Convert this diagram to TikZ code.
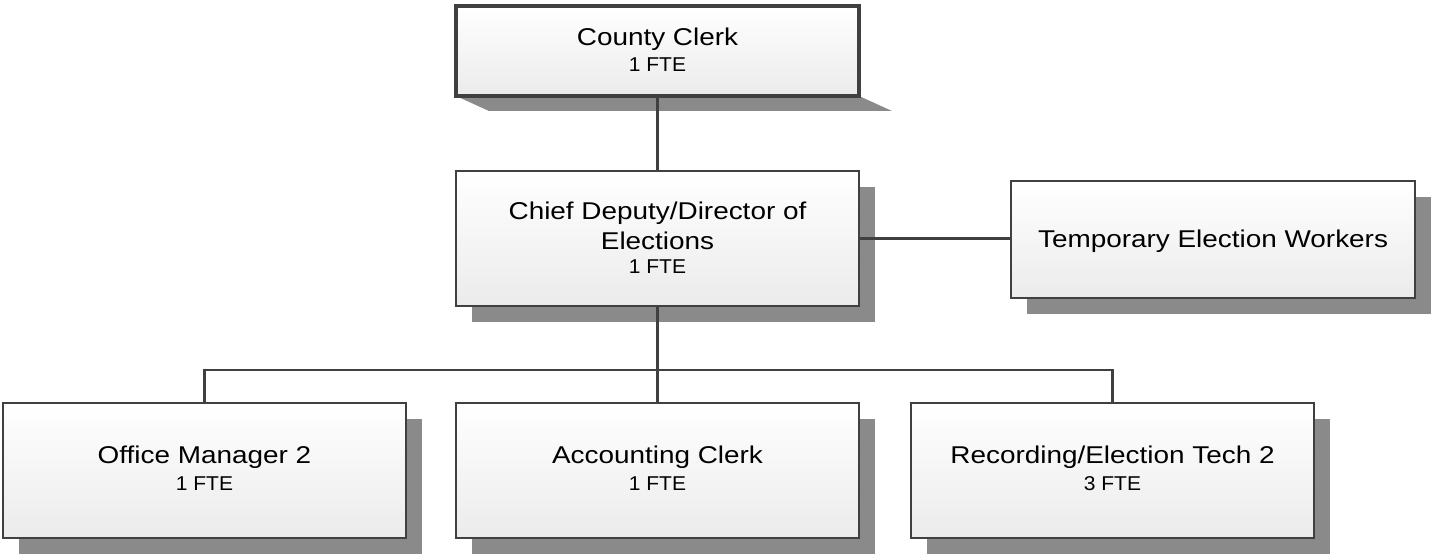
\documentclass[tikz,border=0pt]{standalone}
\usepackage{fontspec}
\setmainfont{Liberation Sans}[FakeStretch=1.15]
\newfontfamily\smallfam{Liberation Sans}[FakeStretch=1.05]
\usetikzlibrary{backgrounds}
\definecolor{edgec}{HTML}{404040}
\definecolor{shadowc}{HTML}{8A8A8A}
\definecolor{boxbot}{HTML}{EBEBEB}
\tikzset{
  box/.style={draw=edgec, line width=1.5pt, top color=white, bottom color=boxbot,
    minimum width=302.25pt, minimum height=101.25pt, inner sep=0pt, outer sep=0pt},
  mainlbl/.style={anchor=base, font=\fontsize{18.2pt}{21pt}\selectfont, inner sep=0pt, text=black},
  smalllbl/.style={anchor=base, font=\smallfam\fontsize{15pt}{18pt}\selectfont, inner sep=0pt, text=black},
  link/.style={draw=edgec, line width=1.6pt},
}
\begin{document}
\begin{tikzpicture}[x=0.75pt,y=-0.75pt]
\useasboundingbox (0,0) rectangle (1432,555);
% boxes
\node[box, line width=3pt, minimum height=67.5pt] (cc) at (657.5,51) {};
\node[box] (cd) at (657.5,238.5) {};
\node[box, minimum width=303pt, minimum height=87.75pt] (tw) at (1213,240) {};
\node[box] (om) at (204.5,470.5) {};
\node[box] (ac) at (657.5,470.5) {};
\node[box] (rt) at (1112.5,470.5) {};
% shadows
\begin{scope}[on background layer]
  \fill[shadowc] (cc.south west) -- ([shift={(33,15)}]cc.south west)
     -- ([shift={(33,15)}]cc.south east) -- (cc.south east) -- cycle;
  \foreach \b in {cd,tw,om,ac,rt}{
    \fill[shadowc] ([shift={(16,16)}]\b.south west) rectangle ([shift={(16,16)}]\b.north east);
  }
\end{scope}
% labels
\node[mainlbl] (cc1) at ([shift={(0,-5.5)}]cc.center) {County Clerk};
\node[smalllbl] (cc2) at ([shift={(0,21)}]cc.center) {1 FTE};
\node[mainlbl] (cd1) at ([shift={(0,-19)}]cd.center) {Chief Deputy/Director of};
\node[mainlbl] (cd2) at ([shift={(0,11)}]cd.center) {Elections};
\node[smalllbl] (cd3) at ([shift={(0,35.5)}]cd.center) {1 FTE};
\node[mainlbl] (tw1) at ([shift={(0,7.5)}]tw.center) {Temporary Election Workers};
\node[mainlbl] (om1) at ([shift={(0,-7)}]om.center) {Office Manager 2};
\node[smalllbl] (om2) at ([shift={(0,20.5)}]om.center) {1 FTE};
\node[mainlbl] (ac1) at ([shift={(0,-7)}]ac.center) {Accounting Clerk};
\node[smalllbl] (ac2) at ([shift={(0,20.5)}]ac.center) {1 FTE};
\node[mainlbl] (rt1) at ([shift={(0,-7)}]rt.center) {Recording/Election Tech 2};
\node[smalllbl] (rt2) at ([shift={(0,20.5)}]rt.center) {3 FTE};
% connectors
\coordinate (bus) at (657.5,370);
\draw[link] (cc.south) -- (cd.north);
\draw[link] (cd.east) -- (cd.east -| tw.west);
\draw[link] (cd.south) -- (ac.north);
\draw[link] (om.north) |- (bus) -| (rt.north);
\end{tikzpicture}
\end{document}
